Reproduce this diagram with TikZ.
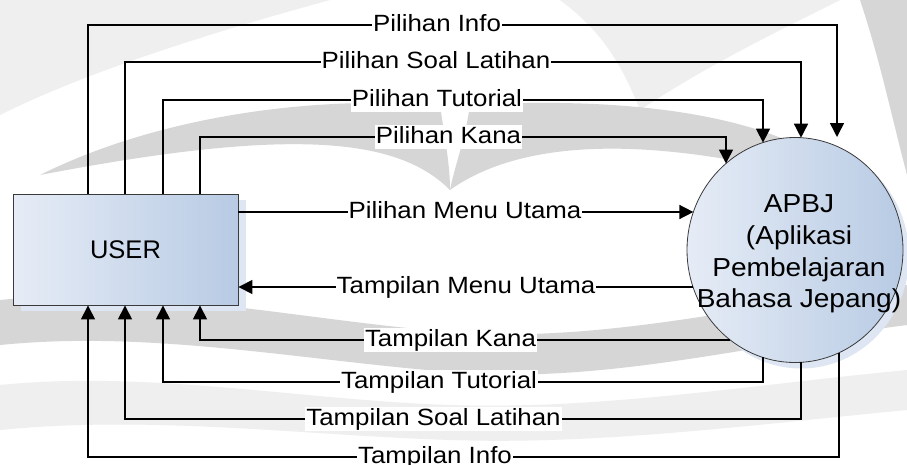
\documentclass[tikz,border=0pt]{standalone}
\usepackage{fontspec}
\setmainfont{Liberation Sans}
\newfontfamily\lblfont{Liberation Sans}[FakeStretch=1.1]
\newfontfamily\circfont{Liberation Sans}[FakeStretch=1.08]
\usetikzlibrary{arrows.meta,shapes.geometric}
\definecolor{boxL}{HTML}{E6ECF6}
\definecolor{boxR}{HTML}{B8CBE4}
\definecolor{shad}{HTML}{DDE6F2}
\definecolor{edge}{HTML}{3A3A3A}
\definecolor{wmlight}{HTML}{EFEFEF}
\definecolor{wmdark}{HTML}{D6D6D6}
\begin{document}
\begin{tikzpicture}[x=1pt,y=-1pt,
  flowline/.style={line width=1.5pt, black},
  flow/.style={flowline, -{Triangle[length=14pt,width=14pt]}},
  lbl/.style={fill=white, inner xsep=1pt, inner ysep=1pt,
    font=\lblfont\fontsize{23.5}{28}\selectfont, text height=17pt, text depth=5pt},
  entity/.style={draw=edge, line width=0.9pt, left color=boxL, right color=boxR,
    minimum width=225pt, minimum height=111pt, inner sep=0pt,
    font=\fontsize{25.5}{30}\selectfont},
  process/.style={ellipse, draw=edge, line width=0.8pt, left color=boxL, right color=boxR,
    minimum width=216pt, minimum height=225pt, inner sep=0pt}
]
\useasboundingbox (0,0) rectangle (907,464);
\fill[white] (0,0) rectangle (907,464);

% faint watermark in the background
\fill[wmlight] (0,0) -- (330,0) .. controls (220,30) and (90,70) .. (0,115) -- cycle;
\fill[wmlight] (560,0) -- (840,0) .. controls (760,40) and (700,70) .. (640,110) .. controls (620,60) and (600,30) .. (560,0) -- cycle;
\fill[wmdark] (860,0) -- (907,0) -- (907,175) .. controls (890,110) and (880,60) .. (860,0) -- cycle;
\fill[wmdark] (40,175) .. controls (150,120) and (300,95) .. (440,105)
  .. controls (445,140) and (450,165) .. (450,190)
  .. controls (400,140) and (300,125) .. (40,175) -- cycle;
\fill[wmdark] (860,190) .. controls (800,120) and (650,95) .. (470,105)
  .. controls (465,140) and (455,165) .. (450,190)
  .. controls (520,140) and (650,130) .. (860,190) -- cycle;
\fill[wmdark] (0,300) .. controls (150,285) and (300,320) .. (450,332)
  .. controls (600,344) and (750,305) .. (907,285) -- (907,325)
  .. controls (750,345) and (600,385) .. (450,372)
  .. controls (300,360) and (150,330) .. (0,345) -- cycle;
\fill[wmlight] (0,385) .. controls (150,370) and (300,400) .. (450,405)
  .. controls (600,410) and (750,385) .. (907,370) -- (907,410)
  .. controls (750,425) and (600,445) .. (450,440)
  .. controls (300,435) and (150,415) .. (0,430) -- cycle;

% shadows
\fill[shad] (21,200) rectangle (246,311);
\fill[shad] (801,256) ellipse [x radius=108, y radius=112.5];

% nodes
\node[entity] (user) at (125.5,249.5) {USER};
\node[process] (apbj) at (795,250) {};
\node[font=\circfont\fontsize{26}{31.7}\selectfont, align=center, inner sep=0pt] (apbjtext) at (799,254)
  {APBJ\\(Aplikasi\\Pembelajaran\\Bahasa Jepang)};

% bend coordinates
\coordinate (ci) at (88,25);
\coordinate (cs) at (125,62);
\coordinate (ct) at (163,100);
\coordinate (ck) at (200,137);
\coordinate (ei) at (837,137);
\coordinate (es) at (801,137.7);
\coordinate (et) at (763,142.6);
\coordinate (ek) at (726,163.5);
\coordinate (mm1) at (0,212);
\coordinate (mm2) at (0,287);
\coordinate (em1) at (693.4,212);
\coordinate (em2) at (693,287);
\coordinate (bk) at (730,340);
\coordinate (bt) at (763,357.4);
\coordinate (bs) at (801,362.3);
\coordinate (bi) at (839,352.7);
\coordinate (ybk) at (200,340);
\coordinate (ybt) at (163,382);
\coordinate (ybs) at (125,419);
\coordinate (ybi) at (88,457);

% top flows
\draw[flow] (user.north -| ci) -- (ci) -| (ei);
\draw[flow] (user.north -| cs) -- (cs) -| (es);
\draw[flow] (user.north -| ct) -- (ct) -| (et);
\draw[flow] (user.north -| ck) -- (ck) -| (ek);
% middle flows
\draw[flow] (user.east |- mm1) -- (em1);
\draw[flow] (em2) -- (user.east |- mm2);
% bottom flows
\draw[flow] (bk) -- (ybk) -- (user.south -| ybk);
\draw[flow] (bt) |- (ybt) -- (user.south -| ybt);
\draw[flow] (bs) |- (ybs) -- (user.south -| ybs);
\draw[flow] (bi) |- (ybi) -- (user.south -| ybi);

% labels
\node[lbl] (l1) at (437,25) {Pilihan Info};
\node[lbl] (l2) at (436,62) {Pilihan Soal Latihan};
\node[lbl] (l3) at (437,100) {Pilihan Tutorial};
\node[lbl] (l4) at (448.5,137) {Pilihan Kana};
\node[lbl] (l5) at (465,212) {Pilihan Menu Utama};
\node[lbl] (l6) at (466,287) {Tampilan Menu Utama};
\node[lbl] (l7) at (450.5,340) {Tampilan Kana};
\node[lbl] (l8) at (439,382) {Tampilan Tutorial};
\node[lbl] (l9) at (433.5,419) {Tampilan Soal Latihan};
\node[lbl] (l10) at (435,457) {Tampilan Info};
\end{tikzpicture}
\end{document}
